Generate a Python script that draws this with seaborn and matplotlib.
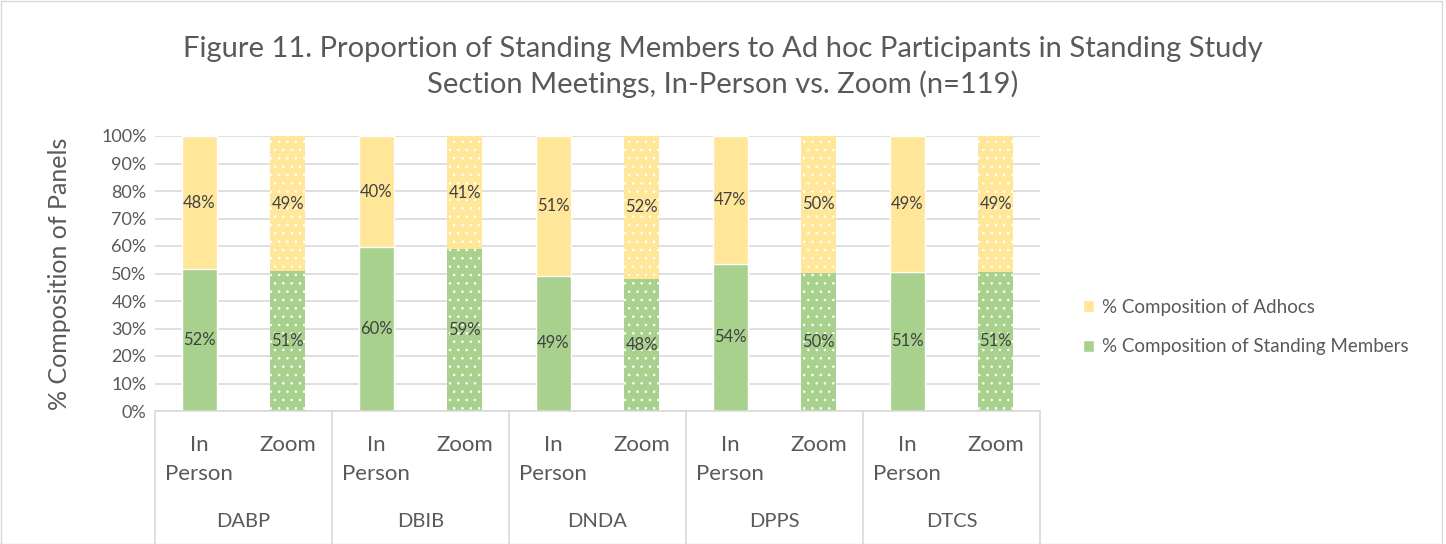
import numpy as np
import pandas as pd
import matplotlib
matplotlib.use("Agg")
import matplotlib.pyplot as plt
import matplotlib.transforms as mtransforms
from matplotlib.patches import Patch, Rectangle
import seaborn as sns

# data
divisions = ["DABP", "DBIB", "DNDA", "DPPS", "DTCS"]
formats = ["In\nPerson", "Zoom"]
standing_inperson = [51.6, 59.6, 49.2, 53.5, 50.6]
standing_zoom = [50.9, 58.9, 48.0, 50.2, 50.6]
adhoc_inperson = [48.4, 40.4, 50.8, 46.5, 49.4]
adhoc_zoom = [49.1, 41.1, 52.0, 49.8, 49.4]

green = "#A9D18E"
yellow = "#FFE699"
grey_txt = "#595959"
dark_txt = "#404040"
grid_col = "#D9D9D9"

rows = []
for i, d in enumerate(divisions):
    rows.append({"slot": d + " IP", "division": d, "fmt": formats[0],
                 "standing": standing_inperson[i], "adhoc": adhoc_inperson[i]})
    rows.append({"slot": d + " Z", "division": d, "fmt": formats[1],
                 "standing": standing_zoom[i], "adhoc": adhoc_zoom[i]})
df = pd.DataFrame(rows)
df["total"] = df["standing"] + df["adhoc"]

sns.set_style("white")
plt.rcParams['font.family'] = ['Lato', 'DejaVu Sans']
plt.rcParams['hatch.linewidth'] = 0.6

fig = plt.figure(figsize=(14.46, 5.44), dpi=100)
ax = fig.add_axes([155 / 1446, 133 / 544, 885 / 1446, 275 / 544])

# stacked: full bar (adhoc colour) then standing on top of it
sns.barplot(data=df, x="slot", y="total", color=yellow, width=0.4,
            saturation=1, ax=ax, errorbar=None, order=list(df["slot"]))
n = len(df)
sns.barplot(data=df, x="slot", y="standing", color=green, width=0.4,
            saturation=1, ax=ax, errorbar=None, order=list(df["slot"]))

# zoom bars get white dots
for k, p in enumerate(ax.patches):
    if df["fmt"].iloc[k % n] == "Zoom":
        p.set_hatch("..")
        p.set_edgecolor("white")
        p.set_linewidth(0)

def pct(v):
    return "%d%%" % int(np.floor(v + 0.5))

for k, p in enumerate(ax.patches[n:]):
    cx = p.get_x() + p.get_width() / 2
    s = df["standing"].iloc[k]
    a = df["adhoc"].iloc[k]
    ax.text(cx, s / 2, pct(s), ha="center", va="center", fontsize=12, color=dark_txt)
    ax.text(cx, s + a / 2, pct(a), ha="center", va="center", fontsize=12, color=dark_txt)

ax.set_ylim(0, 100)
ax.set_xlim(-0.5, n - 0.5)
ax.set_yticks(np.arange(0, 101, 10))
ax.set_yticklabels(["%d%%" % v for v in range(0, 101, 10)], fontsize=13, color=grey_txt)
ax.yaxis.grid(True, color=grid_col, linewidth=1.2)
ax.set_axisbelow(True)
ax.tick_params(axis="y", length=0, pad=6)
ax.set_xticks([])
ax.set_xlabel("")
ax.set_ylabel("% Composition of Panels", fontsize=18, color=grey_txt, labelpad=22)
for sp in ["top", "right", "left"]:
    ax.spines[sp].set_visible(False)
ax.spines["bottom"].set_color(grid_col)
ax.spines["bottom"].set_linewidth(1.2)

# two level category axis
trans = mtransforms.blended_transform_factory(ax.transData, ax.transAxes)
for k in range(n):
    ax.text(k, -0.088, df["fmt"].iloc[k], transform=trans, ha="center", va="top",
            fontsize=16, color=grey_txt, linespacing=1.55)
for i, d in enumerate(divisions):
    ax.text(2 * i + 0.5, -0.372, d, transform=trans, ha="center", va="top",
            fontsize=14.5, color=grey_txt)
for b in np.arange(-0.5, n, 2):
    ax.plot([b, b], [0, -0.49], transform=trans, color=grid_col, linewidth=1.2,
            clip_on=False)

fig.suptitle("Figure 11. Proportion of Standing Members to Ad hoc Participants in Standing Study\n"
             "Section Meetings, In-Person vs. Zoom (n=119)",
             y=0.933, fontsize=21, color=grey_txt, linespacing=1.33)

handles = [Patch(facecolor=yellow, label="% Composition of Adhocs"),
           Patch(facecolor=green, label="% Composition of Standing Members")]
fig.legend(handles=handles, loc="center left", bbox_to_anchor=(1066 / 1446, 0.399),
           frameon=False, fontsize=13.5, labelcolor=grey_txt, handlelength=0.6,
           handleheight=0.6, handletextpad=0.4, labelspacing=1.2)

fig.patches.append(Rectangle((0.001, 0.0), 0.996, 0.998, transform=fig.transFigure,
                             fill=False, edgecolor=grid_col, linewidth=1))

fig.savefig("out.png", dpi=100)
